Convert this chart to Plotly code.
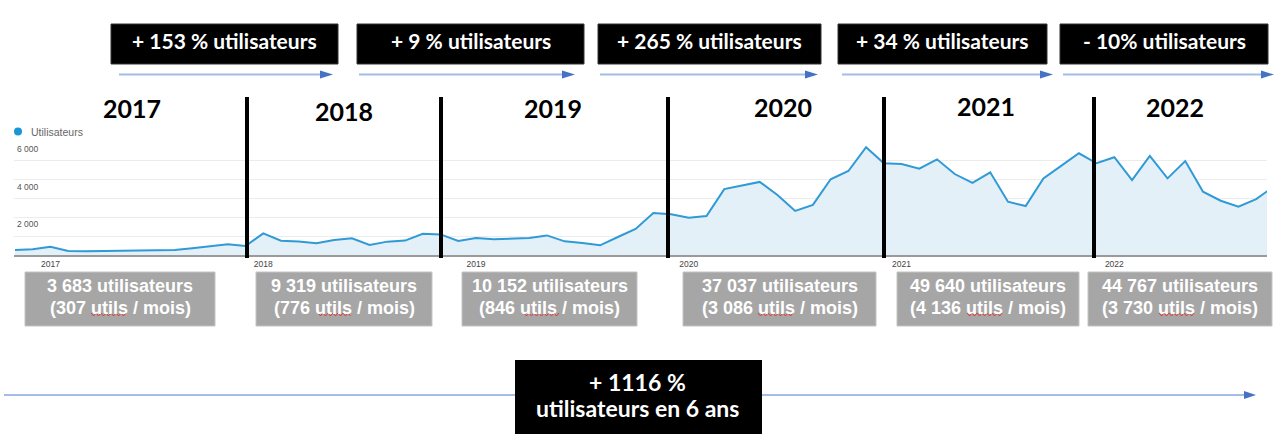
import plotly.graph_objects as go

W, H = 1274, 434

# ---------------- data ----------------
users = [265, 300, 440, 210, 200, 210, 255, 255, 265, 265, 355, 440,
         565, 480, 1150, 760, 720, 620, 800, 885, 530, 710, 765, 1130,
         1095, 745, 900, 830, 865, 900, 1040, 725, 640, 515, 955, 1380,
         2230, 2160, 1980, 2070, 3500, 3680, 3880, 3190, 2340, 2660, 4020, 4460,
         5720, 4870, 4830, 4580, 5080, 4300, 3830, 4390, 2830, 2600, 4070, 4730,
         5400, 4870, 5190, 3980, 5260, 4070, 4990, 3360, 2880, 2570, 2970, 3640]
month_index = list(range(len(users)))
year_tick_pos = [2, 14, 26, 38, 50, 62]
year_labels = ["2017", "2018", "2019", "2020", "2021", "2022"]
y_tick_vals = [2000, 4000, 6000]
y_tick_text = ["2 000", "4 000", "6 000"]
series_name = "Utilisateurs"

growth_labels = ["+ 153 % utilisateurs", "+ 9 % utilisateurs", "+ 265 % utilisateurs",
                 "+ 34 % utilisateurs", "- 10% utilisateurs"]
year_totals = ["3 683 utilisateurs", "9 319 utilisateurs", "10 152 utilisateurs",
               "37 037 utilisateurs", "49 640 utilisateurs", "44 767 utilisateurs"]
year_monthly = ["(307 utils / mois)", "(776 utils / mois)", "(846 utils / mois)",
                "(3 086 utils / mois)", "(4 136 utils / mois)", "(3 730 utils / mois)"]
total_growth = ["+ 1116 %", "utilisateurs en 6 ans"]

# ---------------- layout helpers (pixel -> paper) ----------------
def px(x):
    return x / W


def py(y):
    return 1 - y / H


fig = go.Figure()
fig.add_trace(go.Scatter(
    x=month_index, y=users, mode="lines", name=series_name,
    line=dict(color="#2f9ad6", width=2), fill="tozeroy", fillcolor="#e3f0f8",
    showlegend=False, hoverinfo="skip"))

shapes = []
annotations = []

# legend of GA chart
shapes.append(dict(type="circle", xref="paper", yref="paper",
                   x0=px(14), x1=px(22), y0=py(135.5), y1=py(127.5),
                   fillcolor="#1b95d4", line=dict(width=0)))
annotations.append(dict(x=px(29), y=py(131.5), xref="paper", yref="paper",
                        text=series_name, showarrow=False, xanchor="left", yanchor="middle",
                        font=dict(family="Liberation Sans", size=10.5, color="#666")))

# top black boxes + arrows
box_x = [(111, 338), (357, 584), (598, 821), (838, 1047), (1060, 1268)]
arrow_x = [(119, 333), (359, 575), (600, 818), (842, 1053), (1063, 1274)]
for (x0, x1), (a0, a1), lab in zip(box_x, arrow_x, growth_labels):
    shapes.append(dict(type="rect", xref="paper", yref="paper", x0=px(x0), x1=px(x1),
                       y0=py(64), y1=py(24), fillcolor="black", line=dict(color="#333", width=1)))
    annotations.append(dict(x=px((x0 + x1) / 2), y=py(41), xref="paper", yref="paper",
                            text=lab, showarrow=False, xanchor="center", yanchor="middle",
                            font=dict(family="Lato", size=21, color="white", weight="bold")))
    shapes.append(dict(type="line", xref="paper", yref="paper", x0=px(a0), x1=px(a1 - 10),
                       y0=py(74.5), y1=py(74.5), line=dict(color="#a3bde6", width=2)))
    shapes.append(dict(type="path", xref="paper", yref="paper",
                       path=f"M {px(a1)},{py(74.5)} L {px(a1 - 13)},{py(70.5)} L {px(a1 - 13)},{py(78.5)} Z",
                       fillcolor="#4472c4", line=dict(width=0)))

# big year headings
year_head_pos = [(132, 108), (344, 111), (553, 108), (783, 107), (986, 106), (1175, 107)]
for (cx, cy), lab in zip(year_head_pos, year_labels):
    annotations.append(dict(x=px(cx), y=py(cy), xref="paper", yref="paper", text=lab,
                            showarrow=False, xanchor="center", yanchor="middle",
                            font=dict(family="Lato", size=25, color="black", weight="bold")))

# vertical separators
for sx in [247, 441, 668, 884, 1094]:
    shapes.append(dict(type="line", xref="paper", yref="paper", x0=px(sx), x1=px(sx),
                       y0=py(258), y1=py(97), line=dict(color="black", width=4)))

# grey yearly boxes
grey_x = [(25, 215), (256, 432), (462, 637), (683, 876), (897, 1079), (1088, 1272)]
squig_x = [(91, 126), (318, 351), (524, 559), (758, 795), (967, 1002), (1159, 1195)]
for (x0, x1), (s0, s1), t1, t2 in zip(grey_x, squig_x, year_totals, year_monthly):
    shapes.append(dict(type="rect", xref="paper", yref="paper", x0=px(x0), x1=px(x1),
                       y0=py(326), y1=py(272), fillcolor="#a6a6a6", line=dict(color="#c4c4c4", width=1)))
    cx = (x0 + x1) / 2
    annotations.append(dict(x=px(cx), y=py(286), xref="paper", yref="paper", text=t1,
                            showarrow=False, xanchor="center", yanchor="middle",
                            font=dict(family="Liberation Sans", size=18, color="white", weight="bold")))
    annotations.append(dict(x=px(cx), y=py(307.5), xref="paper", yref="paper", text=t2,
                            showarrow=False, xanchor="center", yanchor="middle",
                            font=dict(family="Liberation Sans", size=18, color="white", weight="bold")))
    # spell-check squiggle
    pts = []
    xx = s0
    k = 0
    while xx <= s1:
        pts.append(f"{px(xx)},{py(313 if k % 2 == 0 else 316)}")
        xx += 2.5
        k += 1
    shapes.append(dict(type="path", xref="paper", yref="paper", path="M " + " L ".join(pts),
                       line=dict(color="#e53935", width=1)))

# bottom arrow + box
shapes.append(dict(type="line", xref="paper", yref="paper", x0=px(4), x1=px(1245),
                   y0=py(395), y1=py(395), line=dict(color="#a3bde6", width=2)))
shapes.append(dict(type="path", xref="paper", yref="paper",
                   path=f"M {px(1256)},{py(395)} L {px(1244)},{py(391)} L {px(1244)},{py(399)} Z",
                   fillcolor="#4472c4", line=dict(width=0)))
shapes.append(dict(type="rect", xref="paper", yref="paper", x0=px(515), x1=px(762),
                   y0=py(434), y1=py(360), fillcolor="black", line=dict(width=0)))
annotations.append(dict(x=px(638), y=py(382), xref="paper", yref="paper", text=total_growth[0],
                        showarrow=False, xanchor="center", yanchor="middle",
                        font=dict(family="Lato", size=23, color="white", weight="bold")))
annotations.append(dict(x=px(638), y=py(408), xref="paper", yref="paper", text=total_growth[1],
                        showarrow=False, xanchor="center", yanchor="middle",
                        font=dict(family="Lato", size=23, color="white", weight="bold")))

fig.update_layout(
    width=W, height=H, margin=dict(l=0, r=0, t=0, b=0, pad=0),
    paper_bgcolor="white", plot_bgcolor="white",
    shapes=shapes, annotations=annotations, showlegend=False,
    xaxis=dict(domain=[px(14), px(1267)], range=[-0.056, 70.61],
               tickmode="array", tickvals=year_tick_pos, ticktext=year_labels,
               tickfont=dict(family="Liberation Sans", size=8.5, color="#444"),
               showgrid=False, zeroline=False, showline=True, linecolor="#9a9a9a", linewidth=1.5,
               ticks="", fixedrange=True),
    yaxis=dict(domain=[py(255), py(142)], range=[0, 6000],
               tickmode="array", tickvals=y_tick_vals, ticktext=y_tick_text,
               ticklabelposition="inside", ticklabelshift=7,
               tickfont=dict(family="Liberation Sans", size=8.5, color="#555"),
               showgrid=True, gridcolor="#ececec", gridwidth=1,
               minor=dict(tickmode="linear", tick0=0, dtick=1000, showgrid=True, gridcolor="#ececec"),
               zeroline=False, showline=False, ticks="", fixedrange=True),
)

fig.write_html("out.html", config={"displayModeBar": False},
               post_script="document.body.style.margin='0';document.body.style.overflow='hidden';")
